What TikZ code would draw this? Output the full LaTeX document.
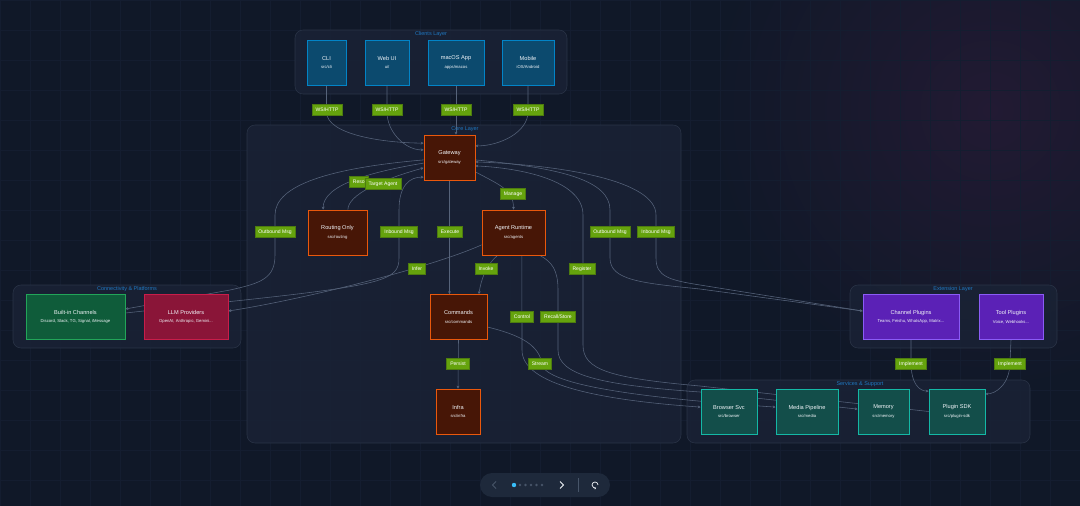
\documentclass[tikz,border=0pt]{standalone}
\usepackage{fontspec}
\setmainfont{Liberation Sans}
\usetikzlibrary{arrows.meta,positioning,calc}
\usepackage{xcolor}
\definecolor{bgdark}{HTML}{101828}
\definecolor{gridline}{HTML}{141D30}
\definecolor{glow}{HTML}{221A33}
\definecolor{groupfill}{HTML}{1A2336}
\definecolor{groupline}{HTML}{2A3447}
\definecolor{grouptext}{HTML}{1F78C1}
\definecolor{clientfill}{HTML}{0C4A6E}
\definecolor{clientline}{HTML}{0284C7}
\definecolor{corefill}{HTML}{471606}
\definecolor{coreline}{HTML}{EA580C}
\definecolor{chanfill}{HTML}{0F5C3A}
\definecolor{chanline}{HTML}{22A559}
\definecolor{llmfill}{HTML}{8A1538}
\definecolor{llmline}{HTML}{C81E4A}
\definecolor{plugfill}{HTML}{5B21B6}
\definecolor{plugline}{HTML}{8B5CF6}
\definecolor{svcfill}{HTML}{134E4A}
\definecolor{svcline}{HTML}{14B8A6}
\definecolor{tagfill}{HTML}{65A30D}
\definecolor{tagline}{HTML}{4D7C0F}
\definecolor{edgecol}{HTML}{56637A}
\definecolor{nodetext}{HTML}{F1F5F9}
\definecolor{navfill}{HTML}{1E293B}
\definecolor{navdot}{HTML}{475569}
\definecolor{navactive}{HTML}{38BDF8}
\pgfdeclarelayer{backdrop}
\pgfdeclarelayer{wires}
\pgfsetlayers{backdrop,wires,main}
\newcommand{\twoline}[2]{#1\\[1.3pt]{\fontsize{3}{3.6}\selectfont #2}}
\tikzset{
  box/.style={draw, line width=0.6pt, align=center, text=nodetext, font=\fontsize{4}{4.8}\selectfont, minimum height=11.25mm, inner sep=0pt},
  clientbox/.style={box, fill=clientfill, draw=clientline},
  corebox/.style={box, fill=corefill, draw=coreline},
  chanbox/.style={box, fill=chanfill, draw=chanline},
  llmbox/.style={box, fill=llmfill, draw=llmline},
  plugbox/.style={box, fill=plugfill, draw=plugline},
  svcbox/.style={box, fill=svcfill, draw=svcline},
  groupbox/.style={draw=groupline, fill=groupfill, fill opacity=0.8, line width=0.4pt, rounded corners=2mm},
  grouptitle/.style={text=grouptext, font=\fontsize{3.9}{4.5}\selectfont, inner sep=0.5pt},
  edgelabel/.style={fill=tagfill, draw=tagline, line width=0.4pt, text=white, font=\fontsize{3.6}{4.3}\selectfont, inner xsep=0.9mm, inner ysep=0pt, minimum height=2.7mm},
  arrow/.style={-{Stealth[length=2pt,width=2pt]}, line width=0.4pt, draw=edgecol}
}
\begin{document}
\begin{tikzpicture}[x=0.025cm, y=-0.025cm]
  \useasboundingbox (0,0) rectangle (1080,506);
  \begin{pgfonlayer}{backdrop}
    \fill[bgdark] (0,0) rectangle (1080,506);
    \shade[inner color=glow, outer color=bgdark] (990,110) circle[radius=7cm];
    \draw[gridline, line width=0.2pt, step=0.75cm] (0,0) grid (1080,506);
    % layers
    \draw[groupbox] (295,30) rectangle (567,94);
    \draw[groupbox] (247,125) rectangle (681,443);
    \draw[groupbox] (13,285) rectangle (241,348);
    \draw[groupbox] (850,285) rectangle (1057,348);
    \draw[groupbox] (687,380) rectangle (1030,443);
  \end{pgfonlayer}
  \node[grouptitle] (clientsttl) at (431,34) {Clients Layer};
  \node[grouptitle] (corettl) at (465,129) {Core Layer};
  \node[grouptitle] (connttl) at (127,289) {Connectivity \& Platforms};
  \node[grouptitle] (extttl) at (953,289) {Extension Layer};
  \node[grouptitle] (svcttl) at (860,384) {Services \& Support};

  % clients
  \node[clientbox, minimum width=9.75mm] (cli) at (326.5,62.5) {\twoline{CLI}{src/cli}};
  \node[clientbox, minimum width=11mm] (webui) at (387,62.5) {\twoline{Web UI}{ui/}};
  \node[clientbox, minimum width=14mm] (macos) at (456,62.5) {\twoline{macOS App}{apps/macos}};
  \node[clientbox, minimum width=13mm] (mobile) at (528,62.5) {\twoline{Mobile}{iOS/Android}};
  % core
  \node[corebox, minimum width=12.75mm] (gateway) at (449.5,157.5) {\twoline{Gateway}{src/gateway}};
  \node[corebox, minimum width=14.75mm] (routing) at (337.5,232.5) {\twoline{Routing Only}{src/routing}};
  \node[corebox, minimum width=15.75mm] (agents) at (513.5,232.5) {\twoline{Agent Runtime}{src/agents}};
  \node[corebox, minimum width=14.25mm] (commands) at (458.5,317) {\twoline{Commands}{src/commands}};
  \node[corebox, minimum width=11mm] (infra) at (458,411.5) {\twoline{Infra}{src/infra}};
  % connectivity
  \node[chanbox, minimum width=24.75mm] (builtin) at (75.5,317) {\twoline{Built-in Channels}{Discord, Slack, TG, Signal, iMessage}};
  \node[llmbox, minimum width=21mm] (llm) at (186,317) {\twoline{LLM Providers}{OpenAI, Anthropic, Gemini...}};
  % extensions
  \node[plugbox, minimum width=24mm] (chplugins) at (911,317) {\twoline{Channel Plugins}{Teams, Feishu, WhatsApp, Matrix...}};
  \node[plugbox, minimum width=16mm] (toolplugins) at (1011,317) {\twoline{Tool Plugins}{Voice, Webhooks...}};
  % services
  \node[svcbox, minimum width=14mm] (browser) at (729,411.5) {\twoline{Browser Svc}{src/browser}};
  \node[svcbox, minimum width=15.5mm] (media) at (807,411.5) {\twoline{Media Pipeline}{src/media}};
  \node[svcbox, minimum width=12.75mm] (memory) at (883.5,411.5) {\twoline{Memory}{src/memory}};
  \node[svcbox, minimum width=14mm] (pluginsdk) at (957,411.5) {\twoline{Plugin SDK}{src/plugin-sdk}};

  \begin{pgfonlayer}{wires}
    \draw[arrow] (cli.south) -- (326.5,112) .. controls (326.5,135) and (385,143) .. ([yshift=3.6mm]gateway.west);
    \draw[arrow] (webui.south) -- (387,112) .. controls (387,132) and (405,150) .. ([yshift=1.9mm]gateway.west);
    \draw[arrow] (macos.south) -- (macos.south |- gateway.north);
    \draw[arrow] (mobile.south) -- (528,112) .. controls (528,132) and (500,146) .. ([yshift=2.9mm]gateway.east);
    % gateway and routing
    \draw[arrow] ([yshift=-1.4mm]gateway.west) .. controls (370,172) and (323,185) .. ([xshift=-3.6mm]routing.north);
    \draw[arrow] ([xshift=2.6mm]routing.north) .. controls (348,195) and (380,180) .. ([yshift=-2.6mm]gateway.west);
    % built-in channels
    \draw[arrow] ([yshift=-0.6mm]gateway.west) .. controls (330,168) and (275,185) .. (275,215) -- (275,255) .. controls (275,278) and (262,283) .. (230,290) -- ([yshift=2mm]builtin.east);
    \draw[arrow] ([yshift=1mm]builtin.east) -- (235,301) .. controls (385,285) and (399,280) .. (399,258) -- (399,210) .. controls (399,185) and (410,177) .. ([yshift=-4.9mm]gateway.west);
    % gateway down
    \draw[arrow] (gateway.south) -- (gateway.south |- commands.north);
    \draw[arrow] ([yshift=-3.6mm]gateway.east) .. controls (500,185) and (513.5,190) .. (agents.north);
    % agent runtime
    \draw[arrow] ([xshift=-4mm]agents.south) .. controls (486,265) and (481,280) .. ([xshift=5.1mm]commands.north);
    \draw[arrow] ([yshift=-3.1mm]agents.west) .. controls (430,268) and (300,300) .. ([yshift=1.5mm]llm.east);
    \draw[arrow] ([xshift=2.1mm]agents.south) -- (522,350) .. controls (522,385) and (600,400) .. ([yshift=1.1mm]browser.west);
    \draw[arrow] ([xshift=6.6mm]agents.south) .. controls (552,262) and (558,270) .. (558,290) -- (558,350) .. controls (558,375) and (600,385) .. (700,392) -- ([yshift=0.6mm]memory.west);
    \draw[arrow] (pluginsdk.west) -- (700,386) .. controls (610,378) and (583,370) .. (583,345) -- (583,215) .. controls (583,180) and (520,168) .. ([yshift=-2.1mm]gateway.east);
    % commands
    \draw[arrow] ([yshift=-2.5mm]commands.east) .. controls (520,335) and (540,345) .. (542,365) .. controls (548,385) and (640,398) .. ([yshift=1.1mm]media.west);
    \draw[arrow] (commands.south) -- (infra.north);
    % channel plugins
    \draw[arrow] ([yshift=-0.6mm]gateway.east) .. controls (560,168) and (610,180) .. (610,210) -- (610,258) .. controls (610,280) and (640,283) .. (700,289) -- ([yshift=1.5mm]chplugins.west);
    \draw[arrow] ([yshift=1.5mm]chplugins.west) -- (700,285) .. controls (668,280) and (656,276) .. (656,258) -- (656,215) .. controls (656,180) and (560,165) .. ([yshift=-1.1mm]gateway.east);
    \draw[arrow] (chplugins.south) -- (911,362) .. controls (911,385) and (920,391) .. ([yshift=5.1mm]pluginsdk.west);
    \draw[arrow] (toolplugins.south) -- (1010,362) .. controls (1010,385) and (995,394) .. ([yshift=4.4mm]pluginsdk.east);
  \end{pgfonlayer}

  % edge labels
  \node[edgelabel] (ws1) at (327,110) {WS/HTTP};
  \node[edgelabel] (ws2) at (387,110) {WS/HTTP};
  \node[edgelabel] (ws3) at (456,110) {WS/HTTP};
  \node[edgelabel] (ws4) at (528,110) {WS/HTTP};
  \node[edgelabel, anchor=west] (reso) at (349,182) {Reso};
  \node[edgelabel] (target) at (383,184) {Target Agent};
  \node[edgelabel] (manage) at (513,194) {Manage};
  \node[edgelabel] (outleft) at (275,232) {Outbound Msg};
  \node[edgelabel] (inleft) at (399,232) {Inbound Msg};
  \node[edgelabel] (execute) at (450,232) {Execute};
  \node[edgelabel] (outright) at (610,232) {Outbound Msg};
  \node[edgelabel] (inright) at (656,232) {Inbound Msg};
  \node[edgelabel] (infer) at (417,269) {Infer};
  \node[edgelabel] (invoke) at (486,269) {Invoke};
  \node[edgelabel] (register) at (582,269) {Register};
  \node[edgelabel] (control) at (522,317) {Control};
  \node[edgelabel] (recall) at (558,317) {Recall/Store};
  \node[edgelabel] (persist) at (458,364) {Persist};
  \node[edgelabel] (stream) at (540,364) {Stream};
  \node[edgelabel] (impl1) at (911,364) {Implement};
  \node[edgelabel] (impl2) at (1010,364) {Implement};

  % slide navigation
  \fill[navfill, rounded corners=3mm] (480,473) rectangle (610,497);
  \draw[navdot, line width=0.6pt] (496,481.5) -- (492.5,485) -- (496,488.5);
  \draw[nodetext, line width=0.6pt] (560,481.5) -- (563.5,485) -- (560,488.5);
  \fill[navactive] (514,485) circle[radius=0.55mm];
  \foreach \dx in {520,525.5,531,536.5,542}
    \fill[navdot] (\dx,485) circle[radius=0.35mm];
  \draw[navdot, line width=0.4pt] (578,478) -- (578,492);
  \draw[nodetext, line width=0.5pt, -{Stealth[length=1.2pt,width=1.8pt]}] (598,485) arc[start angle=0, end angle=290, radius=0.75mm];
\end{tikzpicture}
\end{document}
